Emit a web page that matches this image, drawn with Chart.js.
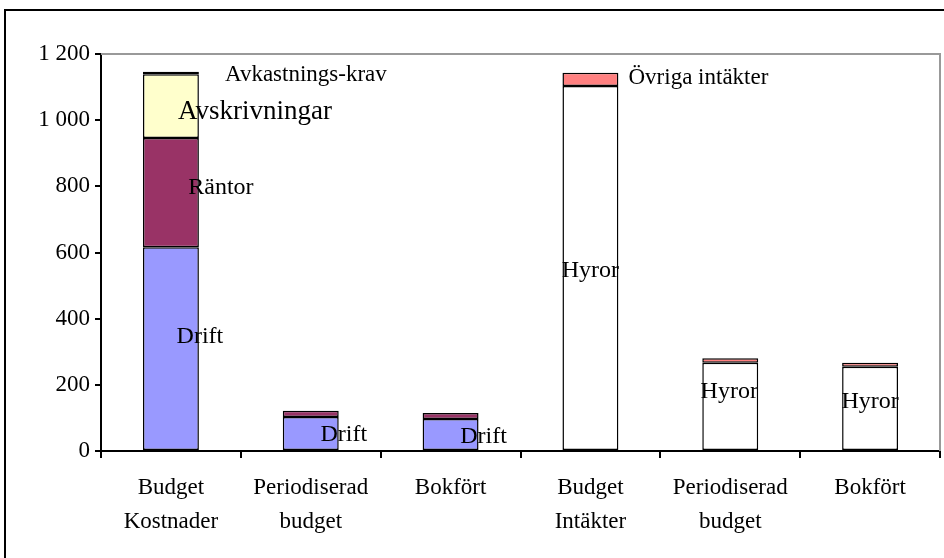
<!DOCTYPE html>
<html>
<head>
<meta charset="utf-8">
<script src="https://cdn.jsdelivr.net/npm/chart.js@4"></script>
<style>
  html, body { margin: 0; padding: 0; background: #fff; overflow: hidden; }
  canvas { display: block; }
</style>
</head>
<body>
<canvas id="chart" width="944" height="558"></canvas>
<script>
const categories = [
  ['Budget', 'Kostnader'],
  ['Periodiserad', 'budget'],
  ['Bokfört'],
  ['Budget', 'Intäkter'],
  ['Periodiserad', 'budget'],
  ['Bokfört']
];

const seriesNames = ['Drift', 'Räntor', 'Avskrivningar', 'Avkastnings-krav', 'Hyror', 'Övriga intäkter'];

const drift = [616, 103, 97, null, null, null];
const rantor = [330, 19, 18, null, null, null];
const avskrivningar = [193, null, null, null, null, null];
const avkastningskrav = [7, null, null, null, null, null];
const hyror = [null, null, null, 1103, 267, 255];
const ovriga = [null, null, null, 40, 13, 12];

const yTicks = [0, 200, 400, 600, 800, 1000, 1200];

// colours per series
const fills = ['#9999ff', '#993366', '#ffffcc', '#000000', '#ffffff', '#ff8080'];
// label font size per series
const labelSizes = [24, 24, 27, 23, 24, 23];
// where each segment label sits, relative to the segment centre (null = no label)
const labelOffsets = [
  [[29, -12], [33, 1], [33, 2], null, null, null],
  [[50, -5], null, null, null, null, null],
  [[84, 6], null, null, null, null, null],
  [[135, 2], null, null, null, null, null],
  [null, null, null, [0, 3], [-1, -15], [0, -7]],
  [null, null, null, [108, -2], null, null]
];

const values = [drift, rantor, avskrivningar, avkastningskrav, hyror, ovriga];

const serif = "'Liberation Serif', 'Times New Roman', serif";

const segmentLabels = {
  id: 'segmentLabels',
  afterDatasetsDraw(chart) {
    const ctx = chart.ctx;
    ctx.save();
    ctx.fillStyle = '#000';
    ctx.textAlign = 'center';
    ctx.textBaseline = 'middle';
    chart.data.datasets.forEach((ds, di) => {
      const meta = chart.getDatasetMeta(di);
      ctx.font = labelSizes[di] + 'px ' + serif;
      meta.data.forEach((el, i) => {
        const off = labelOffsets[di][i];
        if (!off || ds.data[i] == null) return;
        const cy = (el.y + el.base) / 2;
        ctx.fillText(seriesNames[di], el.x + off[0], cy + off[1]);
      });
    });
    ctx.restore();
  }
};

const frame = {
  id: 'frame',
  beforeDraw(chart) {
    const ctx = chart.ctx;
    ctx.save();
    ctx.fillStyle = '#fff';
    ctx.fillRect(0, 0, chart.width, chart.height);
    ctx.restore();
  },
  afterDraw(chart) {
    const ctx = chart.ctx;
    const a = chart.chartArea;
    ctx.save();
    // plot area top/right edge
    ctx.strokeStyle = '#999';
    ctx.lineWidth = 2;
    ctx.beginPath();
    ctx.moveTo(a.left, a.top);
    ctx.lineTo(a.right, a.top);
    ctx.lineTo(a.right, a.bottom);
    ctx.stroke();
    // outer chart border
    ctx.strokeStyle = '#000';
    ctx.lineWidth = 2;
    ctx.beginPath();
    ctx.moveTo(5, chart.height);
    ctx.lineTo(5, 10);
    ctx.lineTo(chart.width, 10);
    ctx.stroke();
    ctx.restore();
  }
};

new Chart(document.getElementById('chart'), {
  type: 'bar',
  data: {
    labels: categories,
    datasets: values.map((v, i) => ({
      label: seriesNames[i],
      data: v,
      backgroundColor: fills[i],
      borderColor: '#000',
      borderWidth: 1.5,
      borderSkipped: false,
      barPercentage: 0.4,
      categoryPercentage: 1
    }))
  },
  options: {
    responsive: false,
    animation: false,
    layout: {
      padding: { left: 0, right: 4, top: 54, bottom: 0 }
    },
    plugins: {
      legend: { display: false },
      tooltip: { enabled: false }
    },
    scales: {
      x: {
        stacked: true,
        grid: {
          drawOnChartArea: false,
          color: '#000',
          lineWidth: 2,
          tickLength: 7
        },
        border: { color: '#000', width: 2 },
        ticks: {
          color: '#000',
          maxRotation: 0,
          padding: 12,
          font: { family: serif, size: 23, lineHeight: 1.52 }
        },
        afterFit(scale) { scale.height = 107; }
      },
      y: {
        stacked: true,
        min: 0,
        max: 1200,
        afterBuildTicks(scale) {
          scale.ticks = yTicks.map(v => ({ value: v }));
        },
        grid: {
          drawOnChartArea: false,
          color: '#000',
          lineWidth: 2,
          tickLength: 6
        },
        border: { color: '#000', width: 2 },
        ticks: {
          color: '#000',
          padding: 5,
          font: { family: serif, size: 23 },
          callback: v => String(v).replace(/\B(?=(\d{3})+(?!\d))/g, ' ')
        },
        afterFit(scale) { scale.width = 101; }
      }
    }
  },
  plugins: [frame, segmentLabels]
});
</script>
</body>
</html>
